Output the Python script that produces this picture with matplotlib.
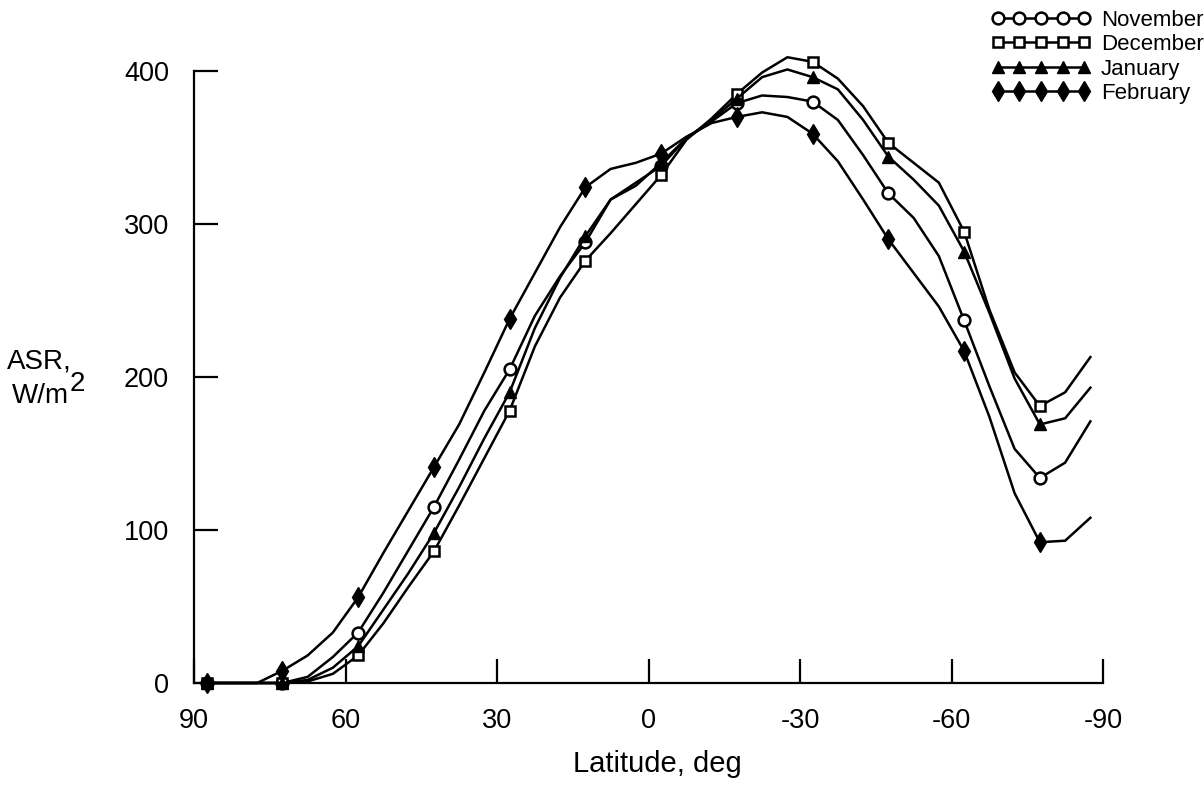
import matplotlib
matplotlib.use('Agg')
import matplotlib.pyplot as plt

plt.rcParams['font.family'] = ['Liberation Sans', 'DejaVu Sans']

latitude = [87.5, 82.5, 77.5, 72.5, 67.5, 62.5, 57.5, 52.5, 47.5, 42.5, 37.5, 32.5,
            27.5, 22.5, 17.5, 12.5, 7.5, 2.5, -2.5, -7.5, -12.5, -17.5, -22.5, -27.5,
            -32.5, -37.5, -42.5, -47.5, -52.5, -57.5, -62.5, -67.5, -72.5, -77.5, -82.5, -87.5]

november = [0, 0, 0, 0, 4, 17, 33, 59, 87, 115, 146, 178, 205, 240, 266, 288, 316, 327,
            338, 356, 367, 379, 384, 383, 380, 368, 345, 320, 304, 279, 237, 194, 153, 134, 144, 171]
december = [0, 0, 0, 0, 1, 6, 18, 39, 63, 86, 116, 147, 178, 220, 252, 276, 294, 313,
            332, 355, 369, 385, 399, 409, 406, 395, 377, 353, 340, 327, 295, 244, 203, 181, 190, 213]
january = [0, 0, 0, 0, 2, 10, 24, 48, 72, 98, 128, 160, 190, 232, 265, 292, 316, 325,
           340, 356, 368, 382, 396, 401, 396, 388, 368, 344, 329, 312, 282, 242, 199, 169, 173, 193]
february = [0, 0, 0, 8, 18, 33, 56, 85, 113, 141, 169, 203, 238, 268, 298, 324, 336, 340,
            346, 357, 366, 370, 373, 370, 359, 341, 316, 290, 268, 246, 217, 174, 124, 92, 93, 108]

series_names = ['November', 'December', 'January', 'February']
x_ticks = [90, 60, 30, 0, -30, -60, -90]
y_ticks = [0, 100, 200, 300, 400]

W, H = 1204, 785
fig = plt.figure(figsize=(W / 100, H / 100), dpi=100)
ax = fig.add_axes([194 / W, 102 / H, (1103 - 194) / W, (683 - 40.4) / H])

styles = [
    dict(marker='o', ms=8.5, mfc='white', mec='black', mew=1.8),
    dict(marker='s', ms=7.5, mfc='white', mec='black', mew=1.8),
    dict(marker='^', ms=8.5, mfc='black', mec='black', mew=1.0),
    dict(marker='d', ms=10, mfc='black', mec='black', mew=1.0),
]
handles = []
for vals, name, st in zip([november, december, january, february], series_names, styles):
    h, = ax.plot(latitude, vals, color='black', lw=1.8, markevery=3, label=name,
                 clip_on=False, **st)
    handles.append(h)

ax.set_xlim(90, -90)
ax.set_ylim(0, 420)
ax.set_xticks(x_ticks)
ax.set_xticklabels([str(t) for t in x_ticks])
ax.set_yticks(y_ticks)
ax.set_yticklabels([str(t) for t in y_ticks])

for s in ['top', 'right']:
    ax.spines[s].set_visible(False)
ax.spines['left'].set_bounds(0, 400)
ax.spines['left'].set_linewidth(1.6)
ax.spines['bottom'].set_linewidth(1.6)
ax.tick_params(direction='in', length=17, width=1.6, labelsize=19.5, pad=18)

fig.text(657 / W, 1 - 764 / H, 'Latitude, deg', fontsize=21, ha='center', va='center')
fig.text(7 / W, 1 - 361 / H, 'ASR,', fontsize=20, ha='left', va='center')
fig.text(12 / W, 1 - 396 / H, 'W/m', fontsize=20, ha='left', va='center')
fig.text(70 / W, 1 - 384 / H, '2', fontsize=20, ha='left', va='center')

leg = ax.legend(handles=handles, loc='upper left', bbox_to_anchor=(980 / W, 1.002),
                bbox_transform=fig.transFigure, frameon=False, numpoints=5,
                handlelength=4.5, handletextpad=0.45, labelspacing=0.16, borderpad=0,
                fontsize=16)

fig.savefig('out.png', dpi=100)
